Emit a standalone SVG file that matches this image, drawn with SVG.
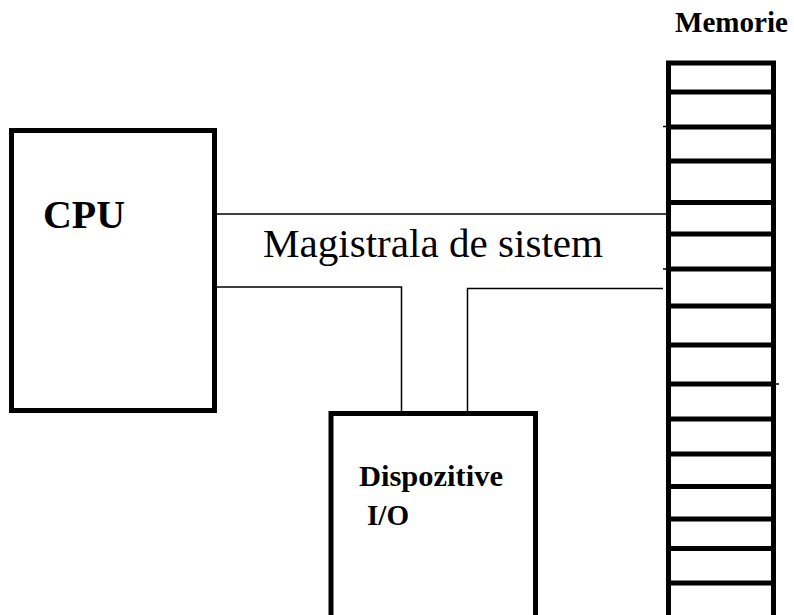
<svg xmlns="http://www.w3.org/2000/svg" width="794" height="615" viewBox="0 0 794 615">
  <style>
    .box { fill: none; stroke: #000; stroke-width: 5; }
    .cell { stroke: #000; stroke-width: 5; }
    .bus { fill: none; stroke: #000; stroke-width: 1.5; }
    .tick { stroke: #000; stroke-width: 1.5; }
    .lbl { fill: #000; }
    .b { font-weight: bold; }
  </style>
  <rect width="794" height="615" fill="#fff"/>

  <!-- system bus -->
  <g id="connectors">
    <line class="bus" x1="217" y1="214" x2="666" y2="214"/>
    <polyline class="bus" points="217,287 401.5,287 401.5,411"/>
    <polyline class="bus" points="663,288.5 467.5,288.5 467.5,411"/>
  </g>

  <g font-family="'Liberation Serif', 'Times New Roman', Times, 'DejaVu Serif', serif">
    <g id="bus-label">
      <text class="lbl" x="263" y="257" font-size="39" textLength="340" lengthAdjust="spacingAndGlyphs">Magistrala de sistem</text>
    </g>

    <g id="cpu">
      <rect class="box" x="11.5" y="130.5" width="203" height="280"/>
      <text class="lbl b" x="43" y="228" font-size="39" textLength="82" lengthAdjust="spacingAndGlyphs">CPU</text>
    </g>

    <g id="io">
      <rect class="box" x="331" y="413.5" width="204.5" height="230"/>
      <text class="lbl b" x="359" y="486" font-size="30" textLength="144" lengthAdjust="spacingAndGlyphs">Dispozitive</text>
      <text class="lbl b" x="367" y="525" font-size="30" textLength="42" lengthAdjust="spacingAndGlyphs">I/O</text>
    </g>

    <g id="memory">
      <text class="lbl b" x="675" y="32" font-size="29" textLength="113" lengthAdjust="spacingAndGlyphs">Memorie</text>
      <rect class="box" x="668.5" y="63" width="105" height="580"/>
      <line class="cell" x1="668.5" y1="92" x2="773.5" y2="92"/>
      <line class="cell" x1="668.5" y1="127" x2="773.5" y2="127"/>
      <line class="cell" x1="668.5" y1="161" x2="773.5" y2="161"/>
      <line class="cell" x1="668.5" y1="202.5" x2="773.5" y2="202.5"/>
      <line class="cell" x1="668.5" y1="234" x2="773.5" y2="234"/>
      <line class="cell" x1="668.5" y1="269" x2="773.5" y2="269"/>
      <line class="cell" x1="668.5" y1="306" x2="773.5" y2="306"/>
      <line class="cell" x1="668.5" y1="345" x2="773.5" y2="345"/>
      <line class="cell" x1="668.5" y1="384" x2="773.5" y2="384"/>
      <line class="cell" x1="668.5" y1="419" x2="773.5" y2="419"/>
      <line class="cell" x1="668.5" y1="454" x2="773.5" y2="454"/>
      <line class="cell" x1="668.5" y1="486.5" x2="773.5" y2="486.5"/>
      <line class="cell" x1="668.5" y1="519" x2="773.5" y2="519"/>
      <line class="cell" x1="668.5" y1="548.5" x2="773.5" y2="548.5"/>
      <line class="cell" x1="668.5" y1="583" x2="773.5" y2="583"/>
      <!-- small stray ticks at a few cell borders -->
      <line class="tick" x1="663" y1="126.5" x2="667" y2="126.5"/>
      <line class="tick" x1="663" y1="269" x2="667" y2="269"/>
      <line class="tick" x1="775" y1="384" x2="779" y2="384"/>
    </g>
  </g>
</svg>
